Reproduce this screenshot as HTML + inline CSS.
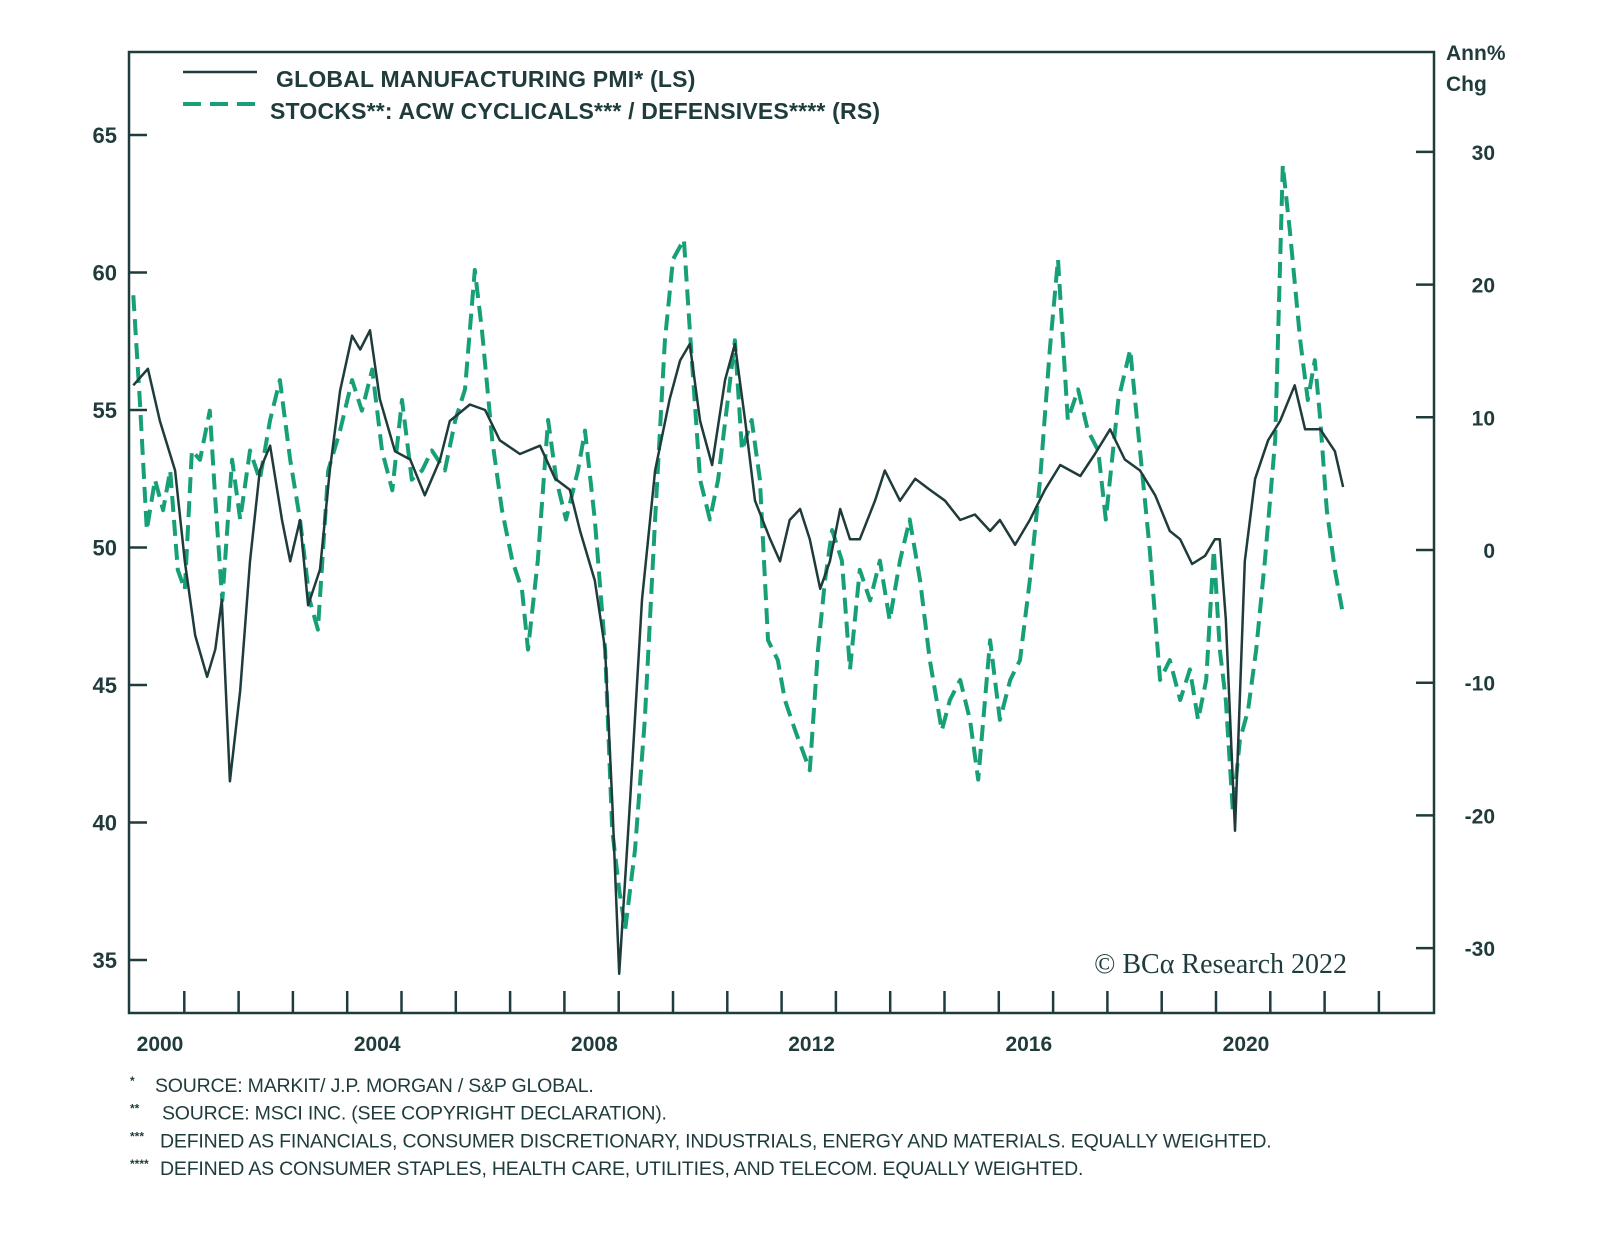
<!DOCTYPE html>
<html><head><meta charset="utf-8">
<style>
html,body{margin:0;padding:0;background:#fff;}
body{width:1600px;height:1232px;overflow:hidden;font-family:"Liberation Sans",sans-serif;}
</style></head>
<body>
<svg id="chart" width="1600" height="1232" viewBox="0 0 1600 1232" style="font-family:'Liberation Sans',sans-serif">
<g id="axes"></g>
<g id="series"></g>
</svg>
<script>
const pmiYears=[2000.06,2000.33,2000.55,2000.83,2001.01,2001.20,2001.42,2001.57,2001.69,2001.84,2002.03,2002.21,2002.39,2002.58,2002.80,2002.95,2003.13,2003.28,2003.50,2003.68,2003.87,2004.09,2004.24,2004.42,2004.60,2004.88,2005.16,2005.43,2005.71,2005.89,2006.26,2006.54,2006.81,2007.18,2007.55,2007.83,2008.10,2008.29,2008.56,2008.75,2008.88,2009.01,2009.21,2009.43,2009.67,2009.94,2010.13,2010.31,2010.50,2010.72,2010.96,2011.14,2011.33,2011.51,2011.79,2011.97,2012.15,2012.34,2012.52,2012.71,2012.89,2013.08,2013.26,2013.44,2013.72,2013.90,2014.18,2014.46,2014.73,2015.01,2015.29,2015.56,2015.84,2016.02,2016.30,2016.57,2016.85,2017.13,2017.50,2017.77,2018.05,2018.32,2018.60,2018.88,2019.15,2019.34,2019.56,2019.80,2019.98,2020.07,2020.18,2020.35,2020.53,2020.72,2020.96,2021.18,2021.45,2021.64,2021.92,2022.19,2022.34];
const pmiValues=[55.9,56.5,54.6,52.8,49.5,46.8,45.3,46.3,48.1,41.5,44.8,49.5,52.8,53.7,51.0,49.5,51.0,47.9,49.2,52.8,55.7,57.7,57.2,57.9,55.4,53.5,53.2,51.9,53.2,54.6,55.2,55.0,53.9,53.4,53.7,52.5,52.1,50.6,48.8,46.3,40.8,34.5,40.8,48.1,52.8,55.4,56.8,57.4,54.6,53.0,56.1,57.4,54.6,51.7,50.3,49.5,51.0,51.4,50.3,48.5,49.5,51.4,50.3,50.3,51.7,52.8,51.7,52.5,52.1,51.7,51.0,51.2,50.6,51.0,50.1,51.0,52.1,53.0,52.6,53.4,54.3,53.2,52.8,51.9,50.6,50.3,49.4,49.7,50.3,50.3,47.4,39.7,49.5,52.5,53.9,54.6,55.9,54.3,54.3,53.5,52.2];
const stkYears=[2000.06,2000.18,2000.31,2000.46,2000.61,2000.74,2000.88,2001.01,2001.14,2001.29,2001.47,2001.57,2001.70,2001.88,2002.03,2002.21,2002.39,2002.58,2002.76,2002.95,2003.13,2003.31,2003.46,2003.65,2003.87,2004.09,2004.27,2004.46,2004.64,2004.83,2005.01,2005.19,2005.38,2005.56,2005.80,2005.99,2006.17,2006.35,2006.48,2006.67,2006.85,2007.04,2007.22,2007.33,2007.51,2007.70,2007.85,2008.03,2008.25,2008.38,2008.56,2008.75,2008.88,2009.01,2009.12,2009.30,2009.48,2009.67,2009.85,2010.00,2010.20,2010.31,2010.50,2010.68,2010.83,2011.01,2011.14,2011.27,2011.45,2011.60,2011.75,2011.93,2012.06,2012.25,2012.52,2012.67,2012.80,2012.93,2013.11,2013.26,2013.44,2013.63,2013.81,2013.99,2014.18,2014.36,2014.55,2014.73,2014.95,2015.10,2015.29,2015.47,2015.62,2015.84,2016.02,2016.21,2016.39,2016.57,2016.76,2016.94,2017.09,2017.27,2017.46,2017.64,2017.83,2017.97,2018.20,2018.42,2018.60,2018.78,2018.97,2019.15,2019.34,2019.52,2019.67,2019.82,2019.96,2020.07,2020.18,2020.31,2020.44,2020.59,2020.74,2020.90,2021.09,2021.23,2021.36,2021.55,2021.69,2021.82,2021.92,2022.04,2022.19,2022.34];
const stkValues=[19.2,11.3,1.5,5.3,3.0,6.0,-1.5,-3.0,7.5,6.8,10.5,3.8,-3.8,6.8,2.3,7.5,5.3,9.8,12.8,6.8,2.3,-3.8,-6.0,6.0,9.0,12.8,10.5,13.6,7.5,4.5,11.3,5.3,6.0,7.5,6.0,9.8,12.1,21.1,16.6,8.3,3.0,-0.8,-3.0,-7.5,-0.8,9.8,5.3,2.3,6.0,9.0,2.3,-7.5,-21.1,-25.6,-28.6,-22.6,-12.8,2.3,15.8,21.9,23.4,16.6,5.3,2.3,5.3,11.3,15.8,7.5,9.8,5.3,-6.8,-8.3,-11.3,-13.6,-16.6,-7.5,-2.3,1.5,-0.8,-9.0,-1.5,-3.8,-0.8,-5.3,-0.8,2.3,-2.3,-8.3,-13.6,-11.3,-9.8,-12.8,-17.3,-6.8,-12.8,-9.8,-8.3,-2.3,5.3,15.1,21.9,9.8,12.1,9.0,7.5,2.3,11.3,15.1,7.5,0,-9.8,-8.3,-11.3,-9.0,-12.8,-9.8,0,-7.5,-11.3,-19.6,-14.3,-12.1,-7.5,-0.8,8.3,29.0,24.1,15.8,11.3,14.3,9.8,3.0,-1.5,-4.9];
const leftTicks=[35,40,45,50,55,60,65];
const rightTicks=[-30,-20,-10,0,10,20,30];
const yearLabels=[2000,2004,2008,2012,2016,2020];

const NS="http://www.w3.org/2000/svg";
const X0=130, PXY=54.3;
const xs=y=>X0+(y-2000)*PXY;
const yl=v=>135+(65-v)*27.5;
const yr=v=>550-v*13.27;
const DARK="#1f3b3c", GREEN="#17a078";
function mk(tag,attrs,parent,txt){const e=document.createElementNS(NS,tag);for(const k in attrs)e.setAttribute(k,attrs[k]);if(txt!==undefined)e.textContent=txt;parent.appendChild(e);return e;}
const axes=document.getElementById('axes'), ser=document.getElementById('series');

let f=mk('rect',{x:129,y:52,width:1305,height:961,fill:'none',stroke:DARK,'stroke-width':2.5},axes);



leftTicks.forEach(v=>{
  let t=mk('line',{x1:129,x2:147,y1:yl(v),y2:yl(v),stroke:DARK,'stroke-width':2.5},axes);
  
  
  let l=mk('text',{x:117,y:yl(v)+8,'text-anchor':'end','font-size':22,'font-weight':'bold',fill:DARK},axes,String(v));
  
  
});
rightTicks.forEach(v=>{
  let t=mk('line',{x1:1416,x2:1434,y1:yr(v),y2:yr(v),stroke:DARK,'stroke-width':2.5},axes);
  
  
  let l=mk('text',{x:1495,y:yr(v)+8,'text-anchor':'end','font-size':21,'font-weight':'bold',fill:DARK},axes,String(v));
  
  
});
for(let yy=2001;yy<=2023;yy++){
  let t=mk('line',{x1:xs(yy),x2:xs(yy),y1:991,y2:1013,stroke:DARK,'stroke-width':2.5},axes);
  
  
}
yearLabels.forEach(yy=>{
  let l=mk('text',{x:xs(yy)+30,y:1051,'text-anchor':'middle','font-size':21,'font-weight':'bold',fill:DARK},axes,String(yy));
  
  
});
let u1=mk('text',{x:1446,y:60,'font-size':21,'font-weight':'bold',fill:DARK},axes,'Ann%');


let u2=mk('text',{x:1446,y:91,'font-size':21,'font-weight':'bold',fill:DARK},axes,'Chg');



// legend
let lg=mk('g',{},axes);


mk('line',{x1:183,x2:257,y1:72,y2:72,stroke:DARK,'stroke-width':2.5},lg);
let lt1=mk('text',{x:276,y:87,'font-size':23,'font-weight':'bold',fill:DARK,'letter-spacing':'0.2'},lg,'GLOBAL MANUFACTURING PMI* (LS)');


mk('line',{x1:183,x2:260,y1:104,y2:104,stroke:GREEN,'stroke-width':4,'stroke-dasharray':'18 9'},lg);
let lt2=mk('text',{x:270,y:119,'font-size':23,'font-weight':'bold',fill:DARK,'letter-spacing':'0.2'},lg,'STOCKS**: ACW CYCLICALS*** / DEFENSIVES****  (RS)');



let cp=mk('text',{x:1347,y:973,'text-anchor':'end','font-size':28,fill:DARK,style:"font-family:'Liberation Serif',serif"},axes,'© BCα Research 2022');



// series
let d1=stkYears.map((y,i)=>(i?'L':'M')+xs(y).toFixed(1)+','+yr(stkValues[i]).toFixed(1)).join('');
let p1=mk('path',{d:d1,fill:'none',stroke:GREEN,'stroke-width':4,'stroke-dasharray':'16 8','stroke-linejoin':'round'},ser);


let d2=pmiYears.map((y,i)=>(i?'L':'M')+xs(y).toFixed(1)+','+yl(pmiValues[i]).toFixed(1)).join('');
let p2=mk('path',{d:d2,fill:'none',stroke:DARK,'stroke-width':2.5,'stroke-linejoin':'round'},ser);



// footnotes
const notes=[['*','SOURCE: MARKIT/ J.P. MORGAN / S&P GLOBAL.',155],['**','SOURCE: MSCI INC. (SEE COPYRIGHT DECLARATION).',162],['***','DEFINED AS FINANCIALS, CONSUMER DISCRETIONARY, INDUSTRIALS, ENERGY AND MATERIALS. EQUALLY WEIGHTED.',160],['****','DEFINED AS CONSUMER STAPLES, HEALTH CARE, UTILITIES, AND TELECOM. EQUALLY WEIGHTED.',160]];
notes.forEach((n,i)=>{
  let g=mk('g',{},axes);
  
  
  mk('text',{x:130,y:1085+i*27.7,'font-size':12,'font-weight':'bold',fill:DARK},g,n[0]);
  mk('text',{x:n[2],y:1092+i*27.7,'font-size':19.5,fill:DARK,'letter-spacing':'-0.2'},g,n[1]);
});
</script>
</body></html>
